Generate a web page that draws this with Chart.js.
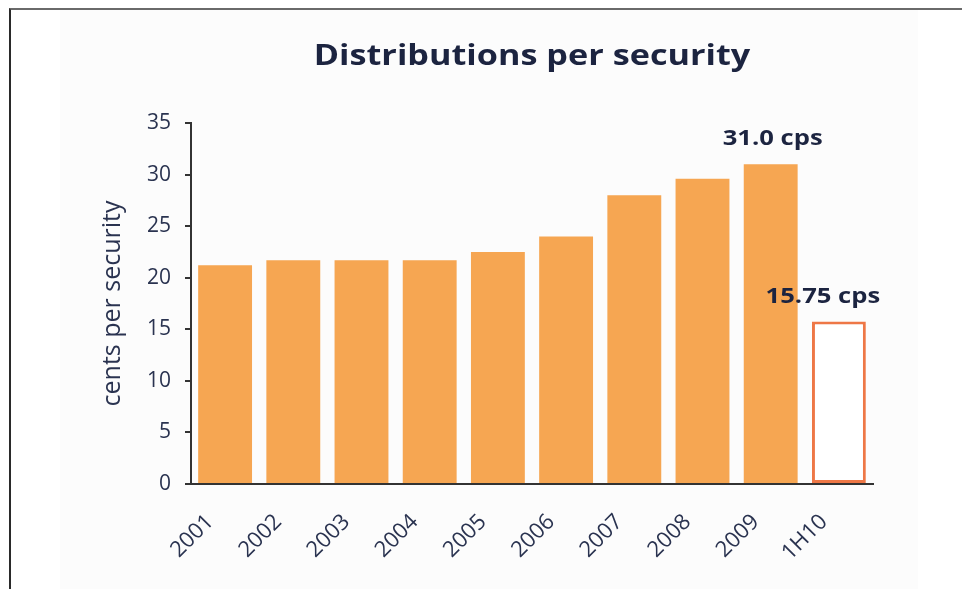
<!DOCTYPE html>
<html>
<head>
<meta charset="utf-8">
<script src="https://cdn.jsdelivr.net/npm/chart.js@4.4.1/dist/chart.umd.min.js"></script>
<style>
  html, body { margin: 0; padding: 0; background: #ffffff; }
  #wrap { position: relative; width: 962px; height: 589px; overflow: hidden; }
  #frame { position: absolute; left: 9px; top: 8px; width: 960px; height: 600px;
           border-top: 2px solid #6a6a6a; border-left: 2px solid #2a2a2a; pointer-events: none; }
  #bg { position: absolute; left: 60px; top: 10px; width: 858px; height: 579px; background: #fcfcfc; }
  canvas { position: absolute; left: 0; top: 0; }
</style>
</head>
<body>
<div id="wrap">
  <div id="bg"></div>
  <canvas id="c" width="962" height="589"></canvas>
  <div id="frame"></div>
</div>
<script>
const chartTitle = 'Distributions per security';
const categories = ['2001','2002','2003','2004','2005','2006','2007','2008','2009','1H10'];
const distributions = [21.2, 21.7, 21.7, 21.7, 22.5, 24.0, 28.0, 29.6, 31.0, 15.75];
const valueLabels = ['', '', '', '', '', '', '', '', '31.0 cps', '15.75 cps'];
const yTicks = [0, 5, 10, 15, 20, 25, 30, 35];

const FONT = '"Open Sans", Lato, sans-serif';
const fillColors = categories.map((c, i) => i === categories.length - 1 ? '#ffffff' : '#F6A652');
const borderColors = categories.map((c, i) => i === categories.length - 1 ? '#EE7746' : '#F6A652');
const borderWidths = categories.map((c, i) => i === categories.length - 1 ? 3 : 0);

function stretchedText(ctx, text, x, y, sx) {
  ctx.save();
  ctx.translate(x, y);
  ctx.scale(sx, 1);
  ctx.fillText(text, 0, 0);
  ctx.restore();
}

const labelPlugin = {
  id: 'valueLabels',
  afterDatasetsDraw(chart) {
    const ctx = chart.ctx;
    const meta = chart.getDatasetMeta(0);
    ctx.save();
    ctx.font = 'bold 21px ' + FONT;
    ctx.fillStyle = '#1c2440';
    ctx.textAlign = 'center';
    ctx.textBaseline = 'middle';
    meta.data.forEach((bar, i) => {
      if (!valueLabels[i]) return;
      const dx = i === categories.length - 1 ? -16 : 2;
      stretchedText(ctx, valueLabels[i], bar.x + dx, bar.y - 25, 1.22);
    });
    ctx.restore();
  }
};

const titlePlugin = {
  id: 'plotTitle',
  afterDraw(chart) {
    const ctx = chart.ctx;
    const a = chart.chartArea;
    ctx.save();
    ctx.font = 'bold 29px ' + FONT;
    ctx.fillStyle = '#1c2440';
    ctx.textAlign = 'center';
    ctx.textBaseline = 'middle';
    stretchedText(ctx, chartTitle, (a.left + a.right) / 2, 57, 1.18);
    ctx.restore();
  }
};

new Chart(document.getElementById('c'), {
  type: 'bar',
  data: {
    labels: categories,
    datasets: [{
      data: distributions,
      backgroundColor: fillColors,
      borderColor: borderColors,
      borderWidth: borderWidths,
      borderSkipped: false,
      barPercentage: 0.79,
      categoryPercentage: 1.0
    }]
  },
  options: {
    responsive: false,
    animation: false,
    layout: { padding: { left: 90, right: 89, top: 123, bottom: 0 } },
    plugins: {
      legend: { display: false },
      tooltip: { enabled: false },
      title: { display: false }
    },
    scales: {
      x: {
        afterFit(axis) { axis.height = 105; },
        grid: { display: false, drawTicks: false },
        border: { display: true, color: '#333333', width: 2 },
        ticks: {
          color: '#2a3350',
          font: { family: FONT, size: 22 },
          minRotation: 45, maxRotation: 45,
          padding: 25,
          labelOffset: -15
        }
      },
      y: {
        min: 0, max: 35,
        afterFit(axis) { axis.width = 101; },
        afterBuildTicks(axis) { axis.ticks = yTicks.map(v => ({ value: v })); },
        grid: { display: true, drawOnChartArea: false, drawTicks: true, tickLength: 6, color: '#333333', lineWidth: 2 },
        border: { display: true, color: '#333333', width: 2 },
        ticks: {
          color: '#2a3350',
          font: { family: FONT, size: 21 },
          padding: 14
        },
        title: {
          display: true,
          text: 'cents per security',
          color: '#2a3350',
          font: { family: FONT, size: 25, lineHeight: 1.2 },
          padding: { top: 8, bottom: 0 }
        }
      }
    }
  },
  plugins: [labelPlugin, titlePlugin]
});
</script>
</body>
</html>
